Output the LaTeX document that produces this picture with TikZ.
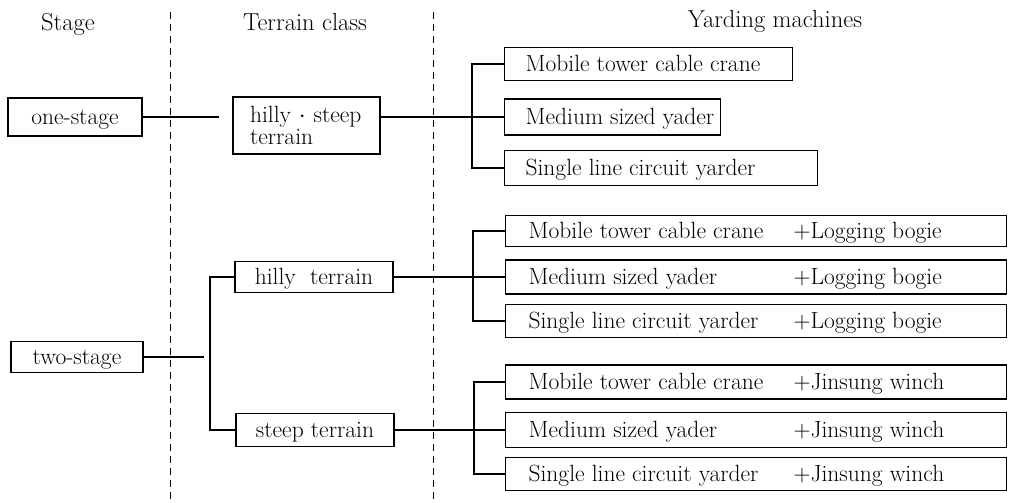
\documentclass[tikz,border=0pt]{standalone}
\newcommand\bxt[2]{\makebox[#1][l]{\hspace*{21pt}#2}}
\newcommand\wbx[2]{\makebox[501pt][l]{\hspace*{23pt}\makebox[265pt][l]{#1}#2}}
\begin{document}
\begin{tikzpicture}[x=1pt,y=-1pt,
  boxb/.style={draw, line width=1.2pt, inner xsep=0pt, inner ysep=0pt, font=\fontsize{23.5}{25}\selectfont},
  box/.style={boxb, text height=16pt, text depth=1pt},
  hdr/.style={anchor=base, font=\fontsize{24.5}{26}\selectfont},
  conn/.style={line width=1.1pt},
  sep/.style={line width=0.8pt, dash pattern=on 7pt off 5pt}]
\useasboundingbox (0,0) rectangle (1036,503);
% headers
\node[hdr] (hStage) at (68,31) {Stage};
\node[hdr] (hTerr) at (305,31) {Terrain class};
\node[hdr] (hYard) at (775,28) {Yarding machines};
% separators
\coordinate (d1t) at (170,12); \coordinate (d1b) at (170,503);
\coordinate (d2t) at (433,12); \coordinate (d2b) at (433,503);
\draw[sep] (d1t) -- (d1b);
\draw[sep] (d2t) -- (d2b);
% one-stage
\node[box, minimum width=134pt, minimum height=38pt] (one) at (75,117) {one-stage};
\node[boxb, minimum width=147pt, minimum height=57pt, text width=147pt, align=left,
  font=\fontsize{23.5}{22}\selectfont] (hs) at (306.5,125.5)
  {\hspace*{17pt}hilly $\cdot$ steep\\\hspace*{17pt}terrain};
\node[box, anchor=west, minimum height=33pt] (m1) at (504,64) {\bxt{288pt}{Mobile tower cable crane}};
\node[box, anchor=west, minimum height=36pt] (m2) at (504,117) {\bxt{216pt}{Medium sized yader}};
\node[box, anchor=west, minimum height=35pt] (m3) at (504,168) {\bxt{313pt}{Single line circuit yarder}};
\coordinate (bx1) at (472,117);
\draw[conn, shorten >=13pt] (one.east) -- (one.east -| hs.west);
\draw[conn] (hs.east |- one.east) -- (m2.west);
\draw[conn] (m1.west) -| (bx1) |- (m3.west);
% two-stage
\node[box, minimum width=132pt, minimum height=31pt] (two) at (77,357) {two-stage};
\node[box, minimum width=158pt, minimum height=31pt] (ht) at (314,277) {hilly~~terrain};
\node[box, minimum width=158pt, minimum height=33pt] (st) at (315,430) {steep terrain};
\coordinate (tb) at (210,357);
\draw[conn, shorten >=6pt] (two.east) -- (tb);
\draw[conn] (ht.west) -| (tb) |- (st.west);
% logging bogie
\node[box, anchor=west, minimum height=31pt] (l1) at (505,231) {\wbx{Mobile tower cable crane}{+Logging bogie}};
\node[box, anchor=west, minimum height=34pt] (l2) at (505,277) {\wbx{Medium sized yader}{+Logging bogie}};
\node[box, anchor=west, minimum height=33pt] (l3) at (505,321) {\wbx{Single line circuit yarder}{+Logging bogie}};
\coordinate (bx2) at (473,277);
\draw[conn] (ht.east) -- (l2.west);
\draw[conn] (l1.west) -| (bx2) |- (l3.west);
% jinsung winch
\node[box, anchor=west, minimum height=34pt] (j1) at (505,382) {\wbx{Mobile tower cable crane}{+Jinsung winch}};
\node[box, anchor=west, minimum height=35pt] (j2) at (505,430) {\wbx{Medium sized yader}{+Jinsung winch}};
\node[box, anchor=west, minimum height=33pt] (j3) at (505,474) {\wbx{Single line circuit yarder}{+Jinsung winch}};
\coordinate (bx3) at (474,430);
\draw[conn] (st.east) -- (j2.west);
\draw[conn] (j1.west) -| (bx3) |- (j3.west);
\end{tikzpicture}
\end{document}
